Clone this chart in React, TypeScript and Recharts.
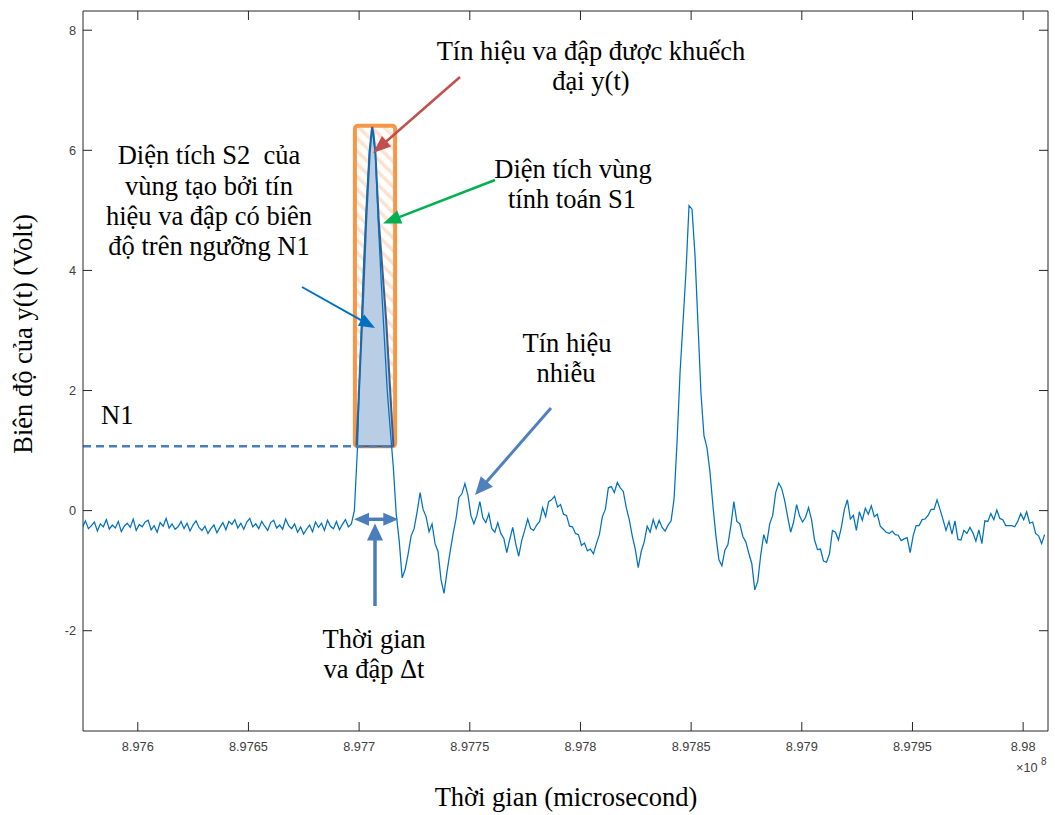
import React from 'react';
import { ComposedChart, Line, Area, XAxis, YAxis, ReferenceArea, ReferenceLine } from 'recharts';

// Sampling of the recorded signal (time in units of 1e8 microseconds)
const T0 = 8.97575;
const DT = 0.0000135;
const signalValues = [
  -0.28,-0.17,-0.30,-0.25,-0.19,-0.34,-0.22,-0.27,-0.15,-0.31,
  -0.24,-0.29,-0.18,-0.35,-0.26,-0.21,-0.28,-0.14,-0.33,-0.23,
  -0.27,-0.19,-0.16,-0.32,-0.25,-0.36,-0.20,-0.26,-0.13,-0.29,
  -0.22,-0.31,-0.27,-0.18,-0.30,-0.21,-0.34,-0.24,-0.17,-0.28,
  -0.33,-0.26,-0.38,-0.30,-0.24,-0.37,-0.28,-0.20,-0.32,-0.18,
  -0.23,-0.15,-0.29,-0.21,-0.31,-0.19,-0.13,-0.27,-0.22,-0.30,
  -0.18,-0.26,-0.33,-0.20,-0.16,-0.29,-0.24,-0.31,-0.14,-0.25,
  -0.30,-0.22,-0.36,-0.27,-0.39,-0.31,-0.24,-0.35,-0.19,-0.28,
  -0.21,-0.33,-0.16,-0.26,-0.30,-0.18,-0.32,-0.23,-0.15,-0.27,
  -0.22,0.00,1.00,2.60,4.00,5.10,6.00,6.35,5.95,4.80,
  3.80,2.90,2.00,1.35,0.75,-0.05,-0.50,-1.12,-0.98,-0.72,
  -0.42,-0.30,-0.02,0.30,0.02,-0.10,-0.35,-0.22,-0.55,-0.68,
  -1.15,-1.38,-1.02,-0.70,-0.40,-0.14,0.22,0.28,0.45,0.26,
  -0.08,-0.22,-0.08,0.15,-0.12,-0.20,-0.05,-0.30,-0.36,-0.20,
  -0.38,-0.46,-0.70,-0.48,-0.28,-0.55,-0.76,-0.50,-0.33,-0.14,
  -0.30,-0.33,-0.24,-0.18,0.05,-0.10,0.15,0.18,0.24,0.06,
  0.10,-0.06,-0.08,-0.26,-0.27,-0.38,-0.40,-0.58,-0.54,-0.67,
  -0.64,-0.72,-0.55,-0.40,-0.10,0.02,0.38,0.40,0.30,0.47,
  0.38,0.32,0.05,-0.15,-0.42,-0.64,-0.95,-0.68,-0.52,-0.26,
  -0.36,-0.15,-0.30,-0.16,-0.28,-0.34,-0.24,-0.17,0.20,1.15,
  2.30,3.15,4.00,5.08,5.02,4.25,3.10,1.95,1.25,1.05,
  0.65,0.08,-0.42,-0.82,-0.92,-0.66,-0.57,-0.25,0.15,-0.18,
  -0.22,-0.43,-0.52,-0.71,-0.88,-1.32,-1.18,-0.74,-0.40,-0.55,
  -0.22,-0.08,0.30,0.46,0.37,0.17,-0.10,-0.36,-0.19,0.10,
  -0.09,-0.19,-0.11,0.05,-0.15,-0.49,-0.65,-0.64,-0.84,-0.86,
  -0.72,-0.33,-0.36,-0.49,-0.27,0.02,0.18,-0.14,-0.08,-0.33,
  -0.02,-0.16,0.04,-0.06,0.08,-0.10,-0.06,-0.26,-0.31,-0.36,
  -0.38,-0.34,-0.40,-0.41,-0.50,-0.47,-0.45,-0.70,-0.42,-0.25,
  -0.25,-0.15,-0.14,-0.08,0.02,0.02,0.18,0.02,-0.15,-0.33,
  -0.18,-0.39,-0.17,-0.48,-0.49,-0.33,-0.38,-0.28,-0.37,-0.51,
  -0.32,-0.55,-0.17,-0.18,-0.05,-0.15,0.01,-0.13,-0.15,-0.25,
  -0.25,-0.25,-0.27,-0.18,-0.05,-0.15,-0.02,-0.21,-0.19,-0.38,
  -0.42,-0.55,-0.40,
];

const xTicks = [8.976, 8.9765, 8.977, 8.9775, 8.978, 8.9785, 8.979, 8.9795, 8.98];
const yTicks = [-2, 0, 2, 4, 6, 8];
const xDomain = [8.9757525, 8.9801123];
const yDomain = [-3.67, 8.32];

// Threshold N1 and the impact pulse region above it (S2)
const N1 = 1.07;
const impactT = [8.976988, 8.977014, 8.977032, 8.977048, 8.9770556, 8.9770592, 8.9770647, 8.9770737, 8.9770886, 8.977122, 8.977155];
const impactV = [1.07, 3.18, 4.84, 5.96, 6.30, 6.39, 6.28, 5.96, 4.84, 3.18, 1.07];
// Computation window S1
const windowT = [8.976981, 8.9771627];
const windowV = [1.07, 6.41];

const signalData = signalValues.map((v, i) => ({ t: T0 + i * DT, v }));
const impactData = impactT.map((t, i) => ({ t, v: impactV[i] }));

const AXIS = '#262626';
const TICKC = '#404040';
const SANS = '"Liberation Sans", Arial, Helvetica, sans-serif';
const SERIF = '"Liberation Serif", "Times New Roman", serif';
const TXT = 26.5;

const fmt = (v: number) => String(parseFloat(v.toFixed(4)));

const XTickBottom = (p: any) => (
  <g>
    <line x1={p.x} x2={p.x} y1={p.y} y2={p.y - 9} stroke={AXIS} strokeWidth={1} />
    <text x={p.x} y={p.y + 20} textAnchor="middle" fontFamily={SANS} fontSize={12.75} fill={TICKC}>
      {fmt(p.payload.value)}
    </text>
  </g>
);
const XTickTop = (p: any) => (
  <line x1={p.x} x2={p.x} y1={p.y} y2={p.y + 9} stroke={AXIS} strokeWidth={1} />
);
const YTickLeft = (p: any) => (
  <g>
    <line x1={p.x} x2={p.x + 9} y1={p.y} y2={p.y} stroke={AXIS} strokeWidth={1} />
    <text x={p.x - 7} y={p.y + 4.5} textAnchor="end" fontFamily={SANS} fontSize={12.75} fill={TICKC}>
      {fmt(p.payload.value)}
    </text>
  </g>
);
const YTickRight = (p: any) => (
  <line x1={p.x} x2={p.x - 9} y1={p.y} y2={p.y} stroke={AXIS} strokeWidth={1} />
);

type ArrowProps = { x1: number; y1: number; x2: number; y2: number; color: string; w: number; hl: number; hw: number };
const Arrow = ({ x1, y1, x2, y2, color, w, hl, hw }: ArrowProps) => {
  const dx = x2 - x1, dy = y2 - y1;
  const L = Math.hypot(dx, dy);
  const ux = dx / L, uy = dy / L;
  const bx = x2 - ux * hl, by = y2 - uy * hl;
  const px = -uy, py = ux;
  return (
    <g>
      <line x1={x1} y1={y1} x2={bx + ux * 2} y2={by + uy * 2} stroke={color} strokeWidth={w} />
      <polygon points={`${x2},${y2} ${bx + (px * hw) / 2},${by + (py * hw) / 2} ${bx - (px * hw) / 2},${by - (py * hw) / 2}`} fill={color} />
    </g>
  );
};

const T = (props: { x: number; y: number; children: React.ReactNode; anchor?: 'start' | 'middle' | 'end' }) => (
  <text
    x={props.x}
    y={props.y}
    textAnchor={props.anchor || 'middle'}
    fontFamily={SERIF}
    fontSize={TXT}
    fill="#000"
    style={{ whiteSpace: 'pre' }}
  >
    {props.children}
  </text>
);

export default function App() {
  return (
    <div style={{ position: 'absolute', left: 0, top: 0, width: 1055, height: 815, background: '#fff' }}>
      <div style={{ position: 'absolute', left: 0, top: 0 }}>
        <ComposedChart width={1055} height={815} margin={{ top: 0, right: 0, bottom: 0, left: 0 }}>
          <XAxis
            dataKey="t"
            type="number"
            domain={xDomain}
            ticks={xTicks}
            allowDataOverflow
            interval={0}
            height={84}
            tickLine={false}
            tickSize={0}
            tickMargin={0}
            tick={<XTickBottom />}
            axisLine={{ stroke: AXIS, strokeWidth: 1 }}
          />
          <XAxis
            xAxisId="top"
            orientation="top"
            dataKey="t"
            type="number"
            domain={xDomain}
            ticks={xTicks}
            allowDataOverflow
            interval={0}
            height={11}
            tickLine={false}
            tickSize={0}
            tickMargin={0}
            tick={<XTickTop />}
            axisLine={{ stroke: AXIS, strokeWidth: 1 }}
          />
          <YAxis
            type="number"
            domain={yDomain}
            ticks={yTicks}
            allowDataOverflow
            interval={0}
            width={83}
            tickLine={false}
            tickSize={0}
            tickMargin={0}
            tick={<YTickLeft />}
            axisLine={{ stroke: AXIS, strokeWidth: 1 }}
          />
          <YAxis
            yAxisId="right"
            orientation="right"
            type="number"
            domain={yDomain}
            ticks={yTicks}
            allowDataOverflow
            interval={0}
            width={7}
            tickLine={false}
            tickSize={0}
            tickMargin={0}
            tick={<YTickRight />}
            axisLine={{ stroke: AXIS, strokeWidth: 1 }}
          />
          <Line
            data={signalData}
            dataKey="v"
            type="linear"
            stroke="#0072BD"
            strokeWidth={1.25}
            dot={false}
            activeDot={false}
            isAnimationActive={false}
          />
          <ReferenceArea
            x1={windowT[0]}
            x2={windowT[1]}
            y1={windowV[0]}
            y2={windowV[1]}
            stroke="#F79646"
            strokeWidth={4}
            fill="url(#hatch)"
            fillOpacity={1}
            radius={3}
            ifOverflow="visible"
          />
          <Area
            data={impactData}
            dataKey="v"
            type="linear"
            baseValue={N1}
            stroke="#3B5E8E"
            strokeWidth={2}
            fill="#B9CDE5"
            fillOpacity={1}
            dot={false}
            activeDot={false}
            isAnimationActive={false}
          />
          <ReferenceLine
            segment={[{ x: impactT[0], y: N1 }, { x: impactT[impactT.length - 1], y: N1 }]}
            stroke="#3B5E8E"
            strokeWidth={2}
            ifOverflow="visible"
          />
          <ReferenceLine
            segment={[{ x: xDomain[0], y: N1 }, { x: impactT[impactT.length - 1], y: N1 }]}
            stroke="#4A7EBB"
            strokeWidth={2.5}
            strokeDasharray="8 5"
            ifOverflow="visible"
          />
        </ComposedChart>
      </div>
      <svg width={1055} height={815} style={{ position: 'absolute', left: 0, top: 0, pointerEvents: 'none' }}>
        <defs>
          <pattern id="hatch" patternUnits="userSpaceOnUse" width="9" height="9" patternTransform="rotate(-45)">
            <rect width="9" height="9" fill="#ffffff" />
            <rect width="3.5" height="9" fill="#FCE2CF" />
          </pattern>
        </defs>
        {/* axis labels */}
        <T x={566} y={806}>Thời gian (microsecond)</T>
        <text x={32} y={334} transform="rotate(-90 32 334)" textAnchor="middle" fontFamily={SERIF} fontSize={TXT} fill="#000">
          Biên độ của y(t) (Volt)
        </text>
        <text x={1016} y={772} fontFamily={SANS} fontSize={12.75} fill={TICKC}>×10</text>
        <text x={1041} y={765} fontFamily={SANS} fontSize={10} fill={TICKC}>8</text>

        {/* annotations */}
        <T x={591} y={60}>Tín hiệu va đập được khuếch</T>
        <T x={591} y={90}>đại y(t)</T>
        <T x={209} y={164}>{'Diện tích S2  của'}</T>
        <T x={209} y={195}>vùng tạo bởi tín</T>
        <T x={209} y={225}>hiệu va đập có biên</T>
        <T x={209} y={255}>độ trên ngưỡng N1</T>
        <T x={573} y={178}>Diện tích vùng</T>
        <T x={572} y={208}>tính toán S1</T>
        <T x={567} y={352}>Tín hiệu</T>
        <T x={566} y={382}>nhiễu</T>
        <T x={374} y={648}>Thời gian</T>
        <T x={374} y={678}>va đập Δt</T>
        <T x={101} y={424} anchor="start">N1</T>

        <Arrow x1={460} y1={77} x2={373} y2={153} color="#C0504D" w={2.5} hl={18} hw={14} />
        <Arrow x1={495} y1={180} x2={383} y2={223.5} color="#00B050" w={2.5} hl={18} hw={14} />
        <Arrow x1={302} y1={287} x2={375} y2={328} color="#0070C0" w={2} hl={16} hw={13} />
        <Arrow x1={551} y1={408} x2={475} y2={495} color="#4F81BD" w={3} hl={18} hw={16} />
        <Arrow x1={376} y1={519.3} x2={354} y2={519.3} color="#4A7EBB" w={3.5} hl={15} hw={13} />
        <Arrow x1={376} y1={519.3} x2={398.3} y2={519.3} color="#4A7EBB" w={3.5} hl={15} hw={13} />
        <Arrow x1={375} y1={606} x2={375} y2={523.5} color="#4A7EBB" w={3.5} hl={17} hw={16} />
      </svg>
    </div>
  );
}
